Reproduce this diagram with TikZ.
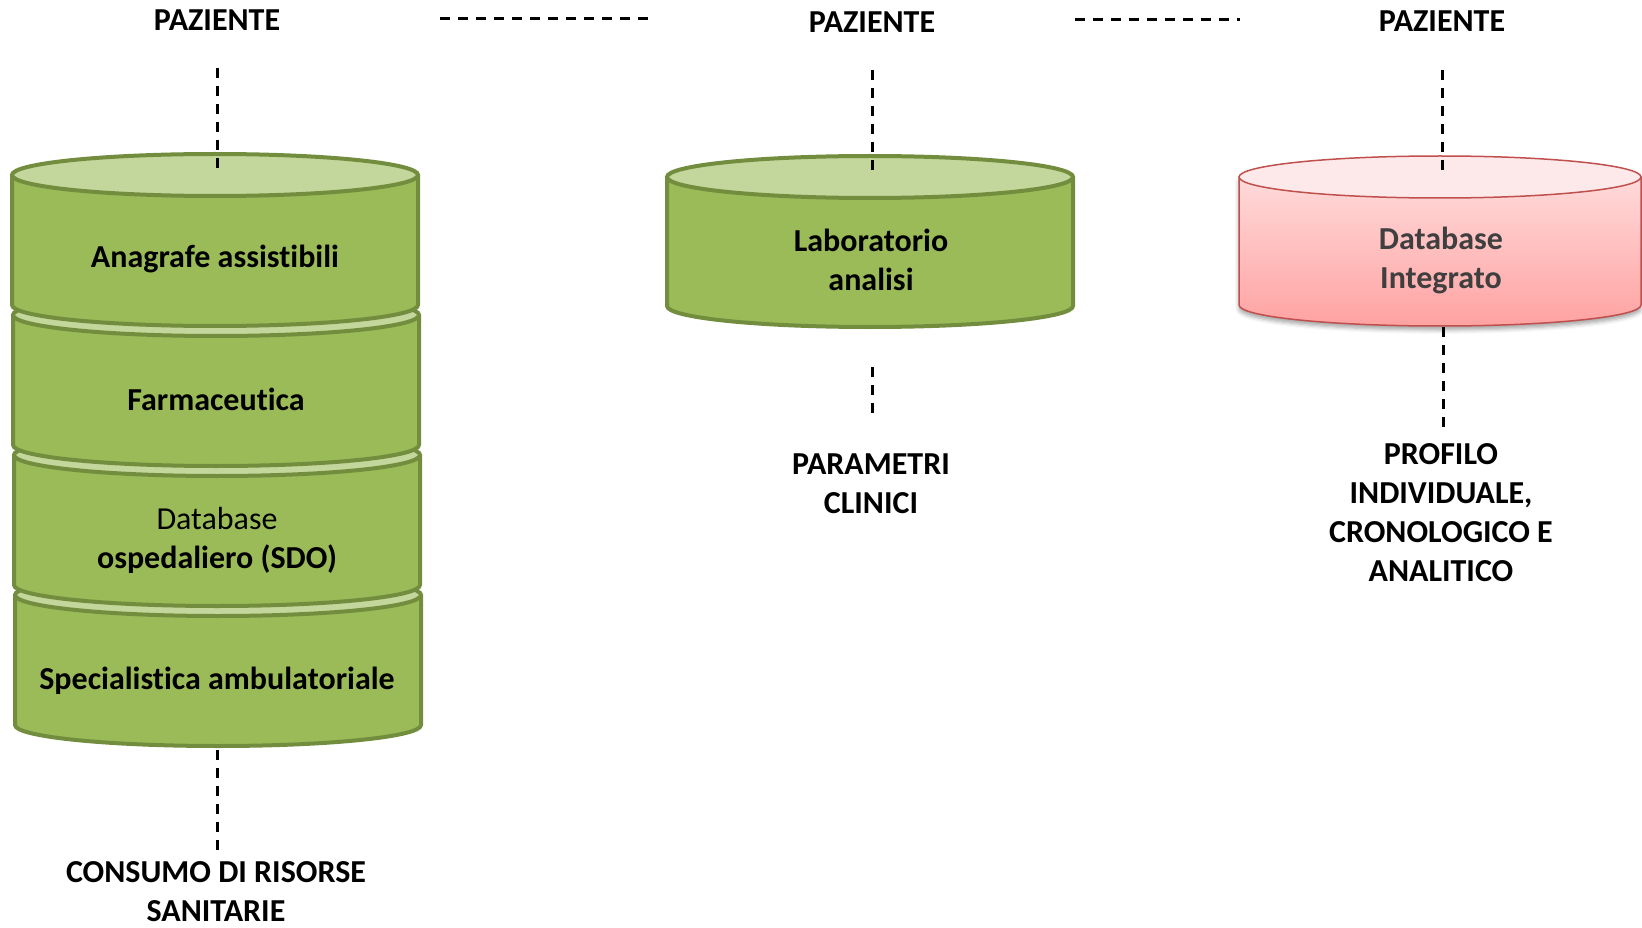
\documentclass[tikz,border=0pt]{standalone}
\usepackage{fontspec}
\setmainfont[Ligatures={NoCommon}]{Carlito}
\usetikzlibrary{shadows.blur}
\definecolor{gborder}{HTML}{738D3E}
\definecolor{gbody}{HTML}{9BBB59}
\definecolor{gtop}{HTML}{C3D69B}
\definecolor{rborder}{HTML}{C0504D}
\definecolor{rtop}{HTML}{FDE9E9}
\definecolor{rlight}{HTML}{FFDADA}
\definecolor{rdark}{HTML}{FFA2A2}
\definecolor{rtext}{HTML}{3F3F3F}
\tikzset{
  gside/.style={draw=gborder,line width=4pt,fill=gbody,line join=round},
  gcap/.style={draw=gborder,line width=4pt,fill=gtop},
  rside/.style={draw=rborder,line width=1.5pt,top color=rlight,bottom color=rdark,line join=round,
     blur shadow={shadow xshift=0pt,shadow yshift=-4pt,shadow opacity=35,shadow blur radius=4pt}},
  rcap/.style={draw=rborder,line width=1.5pt,fill=rtop},
  dline/.style={black,line width=3pt,dash pattern=on 10pt off 8pt},
  lab/.style={font=\fontsize{32}{39}\selectfont\bfseries,align=center,inner sep=0pt},
  labn/.style={font=\fontsize{32}{39}\selectfont,align=center,inner sep=0pt},
}
\newcommand{\gseg}[3]{%
  \draw[gside] (#1-203,#2) -- (#1-203,#3) arc[start angle=180,end angle=0,x radius=203,y radius=21] -- (#1+203,#2) -- cycle;
  \draw[gcap] (#1,#2) ellipse [x radius=203,y radius=21];
}
\begin{document}
\begin{tikzpicture}[x=1pt,y=-1pt]
\useasboundingbox (0,0) rectangle (1642,928);
% left stack (drawn bottom first)
\gseg{218}{595}{725}
\gseg{217}{455}{585}
\gseg{216}{315}{445}
\gseg{215}{175}{305}
% middle cylinder
\gseg{870}{177}{306}
% right cylinder
\draw[rside] (1440-201,177) -- (1440-201,305) arc[start angle=180,end angle=0,x radius=201,y radius=21] -- (1440+201,177) -- cycle;
\draw[rcap] (1440,177) ellipse [x radius=201,y radius=21];

% texts
\node[lab] (p1) at (217,20) {PAZIENTE};
\node[lab] (p2) at (872,22) {PAZIENTE};
\node[lab] (p3) at (1442,21) {PAZIENTE};
\node[lab] (s1) at (215,259) {Anagrafe assistibili};
\node[lab] (s2) at (216,399) {Farmaceutica};
\node[labn] (s3) at (217,540) {Database\\\textbf{ospedaliero (SDO)}};
\node[lab] (s4) at (217,681) {Specialistica ambulatoriale};
\node[lab] (lab) at (871,260) {Laboratorio\\analisi};
\node[lab,text=rtext] (dbi) at (1441,260) {Database\\Integrato};
\node[lab] (par) at (871,484) {PARAMETRI\\CLINICI};
\node[lab] (prof) at (1441,512.5) {PROFILO\\INDIVIDUALE,\\CRONOLOGICO E\\ANALITICO};
\node[lab] (cons) at (216,892) {CONSUMO DI RISORSE\\SANITARIE};

% dashed connectors
\coordinate (a1) at (217,68);  \coordinate (a2) at (217,172);
\coordinate (b1) at (872,70);  \coordinate (b2) at (872,172);
\coordinate (c1) at (1442,70); \coordinate (c2) at (1442,172);
\coordinate (h1) at (440,19);  \coordinate (h2) at (652,19);
\coordinate (h3) at (1075,20); \coordinate (h4) at (1240,20);
\coordinate (e1) at (217,750); \coordinate (e2) at (217,852);
\coordinate (f1) at (872,367); \coordinate (f2) at (872,418);
\coordinate (g1) at (1443,327); \coordinate (g2) at (1443,432);
\draw[dline] (a1) -- (a2);
\draw[dline] (b1) -- (b2);
\draw[dline] (c1) -- (c2);
\draw[dline] (h1) -- (h2);
\draw[dline] (h3) -- (h4);
\draw[dline] (e1) -- (e2);
\draw[dline] (f1) -- (f2);
\draw[dline] (g1) -- (g2);
\end{tikzpicture}
\end{document}
